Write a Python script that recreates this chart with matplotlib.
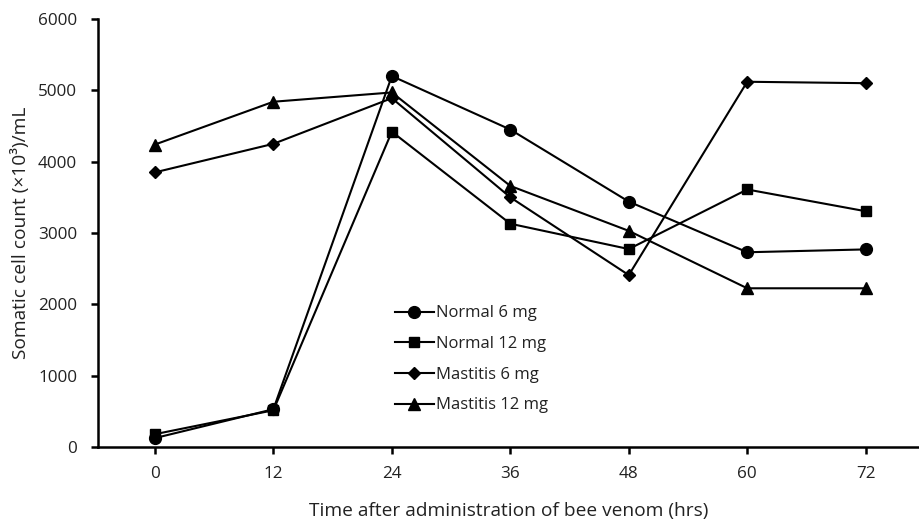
import matplotlib.pyplot as plt

plt.rcParams['font.family'] = ['Open Sans', 'DejaVu Sans']

hours = [0, 12, 24, 36, 48, 60, 72]
normal_6 = [125, 530, 5200, 4450, 3440, 2730, 2770]
normal_12 = [180, 515, 4420, 3130, 2775, 3610, 3305]
mastitis_6 = [3850, 4250, 4890, 3500, 2410, 5120, 5100]
mastitis_12 = [4240, 4840, 4970, 3660, 3030, 2225, 2225]

series = [
    ('Normal 6 mg', normal_6, 'o', 8.5),
    ('Normal 12 mg', normal_12, 's', 7),
    ('Mastitis 6 mg', mastitis_6, 'D', 6.5),
    ('Mastitis 12 mg', mastitis_12, '^', 9),
]

fig = plt.figure(figsize=(9.19, 5.23), dpi=100)
ax = fig.add_axes([0.1066, 0.1453, 0.8934, 0.8184])

for label, vals, marker, ms in series:
    ax.plot(hours, vals, color='black', lw=1.5, marker=marker, ms=ms, label=label)

ax.set_xlim(-5.77, 77.4)
ax.set_ylim(0, 6000)
ax.set_xticks(hours)
ax.set_yticks(range(0, 6001, 1000))
for side in ['top', 'right']:
    ax.spines[side].set_visible(False)
for side in ['left', 'bottom']:
    ax.spines[side].set_linewidth(1.8)
ax.tick_params(direction='out', length=5, width=1.8, labelsize=12.3,
               labelcolor='#222222')
ax.tick_params(axis='y', pad=10)
ax.tick_params(axis='x', pad=9)

ax.set_xlabel('Time after administration of bee venom (hrs)', fontsize=13.8,
              labelpad=14, color='#222222')
ax.set_ylabel('Somatic cell count (×10³)/mL', fontsize=13.8, labelpad=6,
              color='#222222')

fig.legend(loc='upper left', bbox_to_anchor=(0.421, 0.432), frameon=False,
           fontsize=12, handlelength=2.3, handletextpad=0.15,
           labelspacing=0.88, borderpad=0, labelcolor='#222222')

fig.savefig('out.png', dpi=100)
